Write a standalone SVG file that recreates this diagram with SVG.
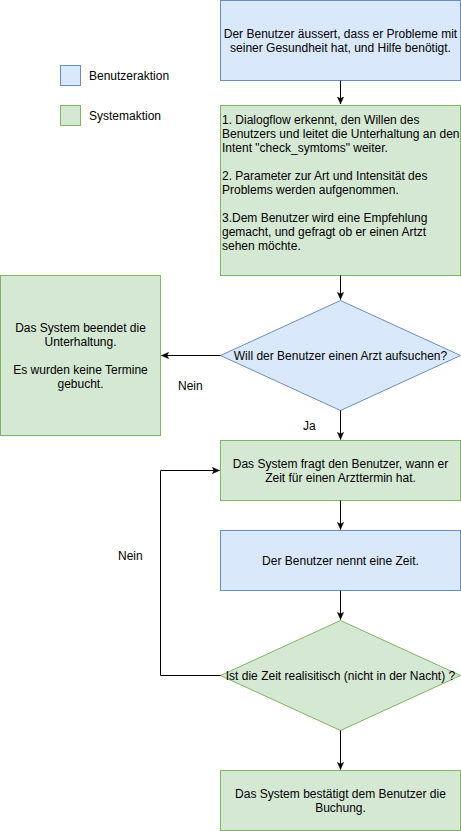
<svg xmlns="http://www.w3.org/2000/svg" width="461" height="831" viewBox="0 0 461 831">
<defs>
<marker id="arr" viewBox="0 0 10 10" refX="9" refY="5" markerWidth="8" markerHeight="8" markerUnits="userSpaceOnUse" orient="auto">
<path d="M0,1 L9,5 L0,9 L2,5 Z" fill="#000" stroke="#000" stroke-width="0.5"/>
</marker>
<style>
.blue{fill:#dae8fc;stroke:#6c8ebf;stroke-width:1}
.green{fill:#d5e8d4;stroke:#82b366;stroke-width:1}
text{font-family:"Liberation Sans",Arial,Helvetica,sans-serif;font-size:12px;fill:#000}
.c{text-anchor:middle}
.edge{fill:none;stroke:#000;stroke-width:1;marker-end:url(#arr)}
</style>
</defs>
<rect width="461" height="831" fill="#fff"/>
<g id="legend-user"><rect class="blue" x="60.5" y="65.5" width="20" height="20"/><text x="89" y="80">Benutzeraktion</text></g>
<g id="legend-system"><rect class="green" x="60.5" y="105.5" width="20" height="20"/><text x="89" y="120">Systemaktion</text></g>
<g id="n1"><rect class="blue" x="220.5" y="0.5" width="240" height="80"/>
<text class="c" x="340.5" y="38">Der Benutzer äussert, dass er Probleme mit</text>
<text class="c" x="340.5" y="52">seiner Gesundheit hat, und Hilfe benötigt.</text></g>
<g id="n2"><rect class="green" x="220.5" y="105.5" width="240" height="170"/>
<text x="222" y="124">1. Dialogflow erkennt, den Willen des</text>
<text x="222" y="138">Benutzers und leitet die Unterhaltung an den</text>
<text x="222" y="152">Intent "check_symtoms" weiter.</text>
<text x="222" y="180">2. Parameter zur Art und Intensität des</text>
<text x="222" y="194">Problems werden aufgenommen.</text>
<text x="222" y="222">3.Dem Benutzer wird eine Empfehlung</text>
<text x="222" y="236">gemacht, und gefragt ob er einen Artzt</text>
<text x="222" y="250">sehen möchte.</text></g>
<g id="d1"><polygon class="blue" points="340.5,300.5 460.5,355.5 340.5,410.5 220.5,355.5"/>
<text class="c" x="340.5" y="360">Will der Benutzer einen Arzt aufsuchen?</text></g>
<g id="n3"><rect class="green" x="0.5" y="275.5" width="160" height="160"/>
<text class="c" x="80.5" y="332">Das System beendet die</text>
<text class="c" x="80.5" y="346">Unterhaltung.</text>
<text class="c" x="80.5" y="374">Es wurden keine Termine</text>
<text class="c" x="80.5" y="388">gebucht.</text></g>
<g id="n4"><rect class="green" x="220.5" y="440.5" width="240" height="60"/>
<text class="c" x="340.5" y="468">Das System fragt den Benutzer, wann er</text>
<text class="c" x="340.5" y="482">Zeit für einen Arzttermin hat.</text></g>
<g id="n5"><rect class="blue" x="220.5" y="530.5" width="240" height="60"/>
<text class="c" x="340.5" y="565">Der Benutzer nennt eine Zeit.</text></g>
<g id="d2"><polygon class="green" points="340.5,620.5 460.5,675.5 340.5,730.5 220.5,675.5"/>
<text class="c" x="340.5" y="680">Ist die Zeit realisitisch (nicht in der Nacht) ?</text></g>
<g id="n6"><rect class="green" x="220.5" y="770.5" width="240" height="60"/>
<text class="c" x="340.5" y="798">Das System bestätigt dem Benutzer die</text>
<text class="c" x="340.5" y="812">Buchung.</text></g>
<g id="edges">
<path class="edge" d="M340.5,80.5 L340.5,104"/>
<path class="edge" d="M340.5,275.5 L340.5,299.5"/>
<path class="edge" d="M220.5,355.5 L161.5,355.5"/>
<text x="178" y="390">Nein</text>
<path class="edge" d="M340.5,410.5 L340.5,439.5"/>
<text x="303" y="430">Ja</text>
<path class="edge" d="M340.5,500.5 L340.5,529.5"/>
<path class="edge" d="M340.5,590.5 L340.5,619.5"/>
<path class="edge" d="M220.5,675.5 L160.5,675.5 L160.5,470.5 L219.5,470.5"/>
<text x="118" y="560">Nein</text>
<path class="edge" d="M340.5,730.5 L340.5,769.5"/>
</g>
</svg>
